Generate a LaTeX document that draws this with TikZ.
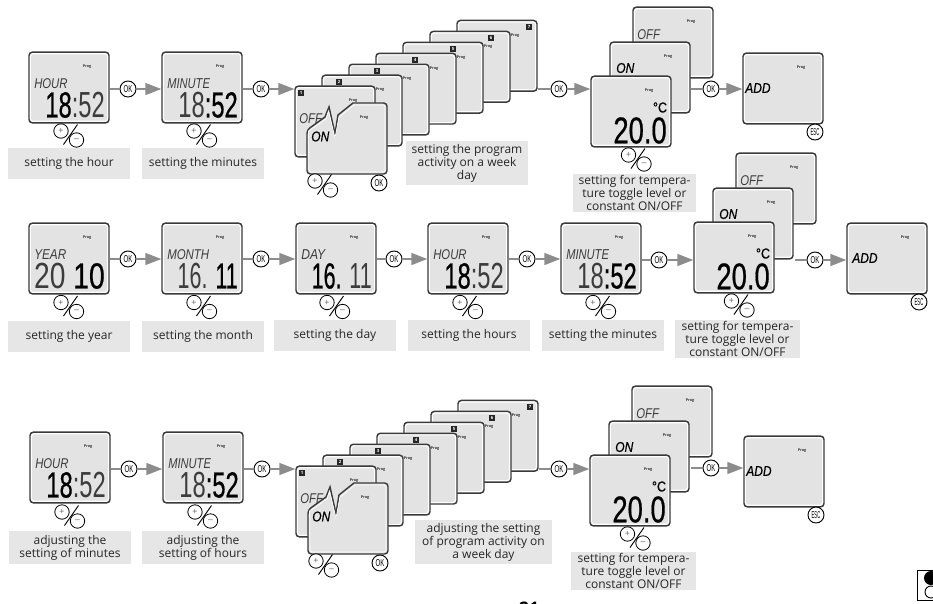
\documentclass[tikz,border=0pt]{standalone}
\usepackage{fontspec}
\setmainfont{Open Sans}
\newfontfamily\lcdFont{Liberation Sans}
\newfontfamily\lcdStrong[FakeBold=0.7]{Liberation Sans}
\newfontfamily\btnFont{Liberation Sans}
\usetikzlibrary{calc,arrows.meta}

\definecolor{lcdGray}{HTML}{E3E3E3}
\definecolor{lcdLine}{HTML}{3A3A3A}
\definecolor{lcdThin}{HTML}{3C3C3C}
\definecolor{labelGray}{HTML}{E6E6E6}
\definecolor{linkGray}{HTML}{8C8C8C}

\tikzset{
    screen/.style={draw=lcdLine,line width=1.1pt,fill=white,rounded corners=2.5pt,
        minimum width=60pt,minimum height=53pt,inner sep=0pt,
        path picture={\fill[lcdGray,rounded corners=1.6pt]
            ($(path picture bounding box.south west)+(1.6pt,1.6pt)$) rectangle
            ($(path picture bounding box.north east)-(1.6pt,1.6pt)$);}},
    progText/.style={font=\bfseries\fontsize{2.8}{3}\selectfont,text=black!80,inner sep=0pt},
    dayBox/.style={fill=black!85,text=white,font=\bfseries\fontsize{3.2}{3.2}\selectfont,
        minimum width=4pt,minimum height=4.6pt,inner sep=0pt},
    lcdWord/.style={anchor=west,inner sep=0pt,font=\lcdFont\itshape},
    lcdDigits/.style={anchor=east,inner sep=0pt,font=\lcdFont},
    btn/.style={circle,draw=black,fill=white,line width=0.7pt,minimum size=12pt,inner sep=0pt,
        font=\btnFont\fontsize{7.5}{8}\selectfont},
    spin/.style={circle,draw=black,fill=white,line width=0.6pt,minimum size=10.8pt,inner sep=0pt,
        text=black!60,font=\btnFont\fontsize{6.5}{7}\selectfont},
    link/.style={draw=linkGray,line width=1.2pt},
    linkTip/.style={link,-{Triangle[length=12pt,width=9pt,fill=linkGray]}},
    stepLabel/.style={fill=labelGray,align=center,inner sep=0pt,text=black!85,
        font=\fontsize{9}{9.8}\selectfont}
}

\newcommand{\lcdOff}[1]{{\lcdFont\color{lcdThin}#1}}
\newcommand{\lcdOn}[1]{{\lcdStrong\color{black}#1}}

\begin{document}
\begin{tikzpicture}[x=0.75pt,y=-0.75pt]
\useasboundingbox (0,0) rectangle (933,604);

\newcommand{\drawScreen}[3]{
    \node[screen] (#1) at ({#2+40},{#3+35.5}) {};
    \node[progText] (#1Prog) at ({#2+58},{#3+15}) {Prog};
}

% screen with a word and a row of digits
\newcommand{\drawLcd}[7]{
    \drawScreen{#1}{#2}{#3}
    \node[lcdWord] (#1Word) at ({#2+5},{#3+32}) {\resizebox{#5pt}{7.4pt}{#4}};
    \node[lcdDigits] (#1Digits) at ({#2+76},{#3+53}) {\resizebox{#6pt}{19pt}{#7}};
}

\newcommand{\drawSpin}[3]{
    \node[spin] (#1Plus) at (#2,#3) {+};
    \node[spin] (#1Minus) at ({#2+15.5},{#3+9}) {\textendash};
    \draw[line width=0.7pt] ($(#1Plus)+(16.5,-6.5)$) -- ($(#1Plus)+(2.5,13.5)$);
}

\newcommand{\drawBtn}[4]{
    \node[btn] (#1) at (#2,#3) {#4};
}

% seven day screens, the split one in front
\newcommand{\drawWeekStack}[3]{
    \foreach \d in {7,6,...,1}
    {
        \pgfmathsetmacro{\sx}{#2+(\d-1)*27}
        \pgfmathsetmacro{\sy}{#3-(\d-1)*10.95}
        \drawScreen{#1Day\d}{\sx}{\sy}
        \node[dayBox] (#1Box\d) at ({#2+6+(\d-1)*38},{#3+7-(\d-1)*10.95}) {\d};
    }
    \begin{scope}[shift={(#2,#3)}]
        \filldraw[fill=lcdGray,draw=lcdLine,line width=1.1pt]
            (12,44)--(30,31)--(34,21)--(40,48)--(43,29)--(58,17)
            [rounded corners=2.5pt] --(92,17)--(92,88)--(12,88)--cycle;
        \draw[white,line width=0.5pt]
            (13.5,45)--(31,33)--(33.5,25)--(40,52)--(44,31)--(59,19)--(88,19)
            [rounded corners=1.6pt] --(90,19)--(90,86)--(14,86)--(13.5,45);
        \node[lcdWord] (#1Off) at (4,32.5) {\resizebox{17pt}{7.4pt}{\lcdOff{OFF}}};
        \node[progText] (#1SplitProg) at (69,32) {Prog};
        \node[lcdWord] (#1On) at (16,50.5) {\resizebox{13.5pt}{7.4pt}{\lcdOn{ON}}};
    \end{scope}
    \drawSpin{#1Spin}{#2+20}{#3+95}
    \drawBtn{#1Ok}{#2+84}{#3+97}{\scalebox{0.6}[1]{OK}}
}

% temperature screen with the ON and OFF screens behind it
\newcommand{\drawTemp}[3]{
    \drawScreen{#1Back}{#2+42}{#3-69}
    \node[lcdWord] (#1Off) at ({#2+46},{#3-41}) {\resizebox{17pt}{7.4pt}{\lcdOff{OFF}}};
    \drawScreen{#1Mid}{#2+19}{#3-34}
    \node[lcdWord] (#1On) at ({#2+25},{#3-8}) {\resizebox{13.5pt}{7.4pt}{\lcdOn{ON}}};
    \drawScreen{#1Front}{#2}{#3}
    \node[lcdDigits,anchor=center] (#1Unit) at ({#2+69},{#3+31.5}) {\resizebox{10.5pt}{7.5pt}{\lcdOn{°C}}};
    \node[lcdDigits] (#1Digits) at ({#2+76},{#3+54.5}) {\resizebox{40pt}{19.5pt}{\lcdOn{20.0}}};
    \drawSpin{#1Spin}{#2+37.5}{#3+79}
}

% ADD screen with its ESC button
\newcommand{\drawAdd}[4]{
    \drawScreen{#1}{#2}{#3}
    \node[lcdWord] (#1Word) at ({#2+#4},{#3+35}) {\resizebox{19pt}{7.4pt}{\lcdOn{ADD}}};
    \drawBtn{#1Esc}{#2+72}{#3+79}{\scalebox{0.42}[1]{ESC}}
}

% first row
\drawLcd{aHour}{29}{52}{\lcdOff{HOUR}}{25}{44.5}{\lcdOn{18}\lcdOff{:52}}
\drawSpin{aHourSpin}{61}{131}
\drawLcd{aMinute}{162}{52}{\lcdOff{MINUTE}}{32}{44.5}{\lcdOff{18}\lcdOn{:52}}
\drawSpin{aMinuteSpin}{194}{131}
\drawWeekStack{aWeek}{295}{86}
\drawTemp{aTemp}{591}{76}
\drawAdd{aAdd}{743}{53}{2}
\drawBtn{aOkA}{128}{89}{\scalebox{0.6}[1]{OK}}
\drawBtn{aOkB}{261}{89}{\scalebox{0.6}[1]{OK}}
\drawBtn{aOkC}{559}{89}{\scalebox{0.6}[1]{OK}}
\drawBtn{aOkD}{711}{89}{\scalebox{0.6}[1]{OK}}
\coordinate (aTempOut) at (691,89);
\draw[link] (aHour.east |- aOkA) -- (aOkA);
\draw[linkTip] (aOkA) -- (aMinute.west |- aOkA);
\draw[link] (aMinute.east |- aOkB) -- (aOkB);
\draw[linkTip] (aOkB) -- (aWeekDay1.west |- aOkB);
\draw[link] (aWeekDay7.east |- aOkC) -- (aOkC);
\draw[linkTip] (aOkC) -- (aTempFront.west |- aOkC);
\draw[link] (aTempOut) -- (aOkD);
\draw[linkTip] (aOkD) -- (aAdd.west |- aOkD);
\node[stepLabel,minimum width=91.5pt,minimum height=23.2pt] (aLabelHour) at (69,163.5) {setting the hour};
\node[stepLabel,minimum width=91.5pt,minimum height=23.2pt] (aLabelMinute) at (203,163.5) {setting the minutes};
\node[stepLabel,minimum width=91.5pt,minimum height=33pt] (aLabelWeek) at (467,163) {setting the program\\activity on a week\\day};
\node[stepLabel,minimum width=92pt,minimum height=29pt] (aLabelTemp) at (634.5,193) {setting for tempera-\\ture toggle level or\\constant ON/OFF};

% second row
\drawLcd{bYear}{29}{223}{\lcdOff{YEAR}}{24}{53}{\lcdOff{20} \lcdOn{10}}
\drawSpin{bYearSpin}{61}{302.5}
\drawLcd{bMonth}{162}{223}{\lcdOff{MONTH}}{31.5}{45}{\lcdOff{16.} \lcdOn{11}}
\drawSpin{bMonthSpin}{194}{302.5}
\drawLcd{bDay}{296}{223}{\lcdOff{DAY}}{18}{45}{\lcdOn{16.} \lcdOff{11}}
\drawSpin{bDaySpin}{327}{302.5}
\drawLcd{bHour}{428}{223}{\lcdOff{HOUR}}{25}{44.5}{\lcdOn{18}\lcdOff{:52}}
\drawSpin{bHourSpin}{460}{302.5}
\drawLcd{bMinute}{561}{223}{\lcdOff{MINUTE}}{32}{44.5}{\lcdOff{18}\lcdOn{:52}}
\drawSpin{bMinuteSpin}{593}{302.5}
\drawTemp{bTemp}{694}{222}
\drawAdd{bAdd}{847}{223}{5}
\drawBtn{bOkA}{128}{259}{\scalebox{0.6}[1]{OK}}
\drawBtn{bOkB}{261}{259}{\scalebox{0.6}[1]{OK}}
\drawBtn{bOkC}{394}{259}{\scalebox{0.6}[1]{OK}}
\drawBtn{bOkD}{527}{259}{\scalebox{0.6}[1]{OK}}
\drawBtn{bOkE}{659}{260}{\scalebox{0.6}[1]{OK}}
\drawBtn{bOkF}{815}{260}{\scalebox{0.6}[1]{OK}}
\coordinate (bTempOut) at (795,260);
\draw[link] (bYear.east |- bOkA) -- (bOkA);
\draw[linkTip] (bOkA) -- (bMonth.west |- bOkA);
\draw[link] (bMonth.east |- bOkB) -- (bOkB);
\draw[linkTip] (bOkB) -- (bDay.west |- bOkB);
\draw[link] (bDay.east |- bOkC) -- (bOkC);
\draw[linkTip] (bOkC) -- (bHour.west |- bOkC);
\draw[link] (bHour.east |- bOkD) -- (bOkD);
\draw[linkTip] (bOkD) -- (bMinute.west |- bOkD);
\draw[link] (bMinute.east |- bOkE) -- (bOkE);
\draw[linkTip] (bOkE) -- (bTempFront.west |- bOkE);
\draw[link] (bTempOut) -- (bOkF);
\draw[linkTip] (bOkF) -- (bAdd.west |- bOkF);
\node[stepLabel,minimum width=91.5pt,minimum height=23.2pt] (bLabelYear) at (69,336.5) {setting the year};
\node[stepLabel,minimum width=91.5pt,minimum height=23.2pt] (bLabelMonth) at (203,336.5) {setting the month};
\node[stepLabel,minimum width=91.5pt,minimum height=23.2pt] (bLabelDay) at (335,335.5) {setting the day};
\node[stepLabel,minimum width=91.5pt,minimum height=23.2pt] (bLabelHour) at (469,335.5) {setting the hours};
\node[stepLabel,minimum width=91.5pt,minimum height=23.2pt] (bLabelMinute) at (603,335.5) {setting the minutes};
\node[stepLabel,minimum width=93.5pt,minimum height=29pt] (bLabelTemp) at (737.5,339) {setting for tempera-\\ture toggle level or\\constant ON/OFF};

% third row
\drawLcd{cHour}{30}{432}{\lcdOff{HOUR}}{25}{44.5}{\lcdOn{18}\lcdOff{:52}}
\drawSpin{cHourSpin}{62}{512}
\drawLcd{cMinute}{163}{432}{\lcdOff{MINUTE}}{32}{44.5}{\lcdOff{18}\lcdOn{:52}}
\drawSpin{cMinuteSpin}{195}{512}
\drawWeekStack{cWeek}{296}{466}
\drawTemp{cTemp}{590}{455}
\drawAdd{cAdd}{744}{436}{2}
\drawBtn{cOkA}{129}{469}{\scalebox{0.6}[1]{OK}}
\drawBtn{cOkB}{262}{469}{\scalebox{0.6}[1]{OK}}
\drawBtn{cOkC}{559}{469}{\scalebox{0.6}[1]{OK}}
\drawBtn{cOkD}{711}{468}{\scalebox{0.6}[1]{OK}}
\coordinate (cTempOut) at (691,468);
\draw[link] (cHour.east |- cOkA) -- (cOkA);
\draw[linkTip] (cOkA) -- (cMinute.west |- cOkA);
\draw[link] (cMinute.east |- cOkB) -- (cOkB);
\draw[linkTip] (cOkB) -- (cWeekDay1.west |- cOkB);
\draw[link] (cWeekDay7.east |- cOkC) -- (cOkC);
\draw[linkTip] (cOkC) -- (cTempFront.west |- cOkC);
\draw[link] (cTempOut) -- (cOkD);
\draw[linkTip] (cOkD) -- (cAdd.west |- cOkD);
\node[stepLabel,minimum width=91.5pt,minimum height=25pt] (cLabelHour) at (70,547.5) {adjusting the\\setting of minutes};
\node[stepLabel,minimum width=91.5pt,minimum height=25pt] (cLabelMinute) at (203,547.5) {adjusting the\\setting of hours};
\node[stepLabel,minimum width=102.5pt,minimum height=33pt] (cLabelWeek) at (483.5,542) {adjusting the setting\\of program activity on\\a week day};
\node[stepLabel,minimum width=94pt,minimum height=29pt] (cLabelTemp) at (633.5,571) {setting for tempera-\\ture toggle level or\\constant ON/OFF};

% corner mark and page number
\draw[line width=0.7pt] (917,570) rectangle (945,600);
\fill (931,578) circle (7);
\draw[line width=0.7pt] (931,592) circle (6);
\node[inner sep=0pt,font=\bfseries\fontsize{13}{13}\selectfont] (pageNumber) at (529,608) {21};
\end{tikzpicture}
\end{document}
